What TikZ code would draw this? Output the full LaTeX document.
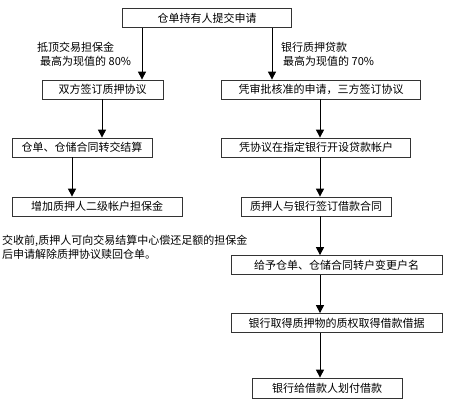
\documentclass[tikz,border=0pt]{standalone}
\usepackage{fontspec}
\setmainfont{Noto Sans CJK SC}
\usetikzlibrary{arrows.meta}
\begin{document}
\begin{tikzpicture}[x=1pt,y=-1pt,
  box/.style={draw=black!80,line width=0.8pt,inner sep=0pt,minimum height=19pt,font=\fontsize{11}{12}\selectfont},
  arr/.style={line width=1pt,-{Triangle[length=8pt,width=8pt]}},
  lbl/.style={anchor=west,inner sep=0pt,font=\fontsize{11}{12}\selectfont}]
\useasboundingbox (0,0) rectangle (450,400);
\fill[white] (0,0) rectangle (450,400);
% boxes
\node[box,minimum width=169pt] (b1) at (207,18) {仓单持有人提交申请};
\node[box,minimum width=121pt] (l2) at (102.5,89.5) {双方签订质押协议};
\node[box,minimum width=199pt] (r2) at (321,89.5) {凭审批核准的申请，三方签订协议};
\node[box,minimum width=140pt] (l3) at (82,147.5) {仓单、仓储合同转交结算};
\node[box,minimum width=189pt] (r3) at (316,147.5) {凭协议在指定银行开设贷款帐户};
\node[box,minimum width=170pt] (l4) at (97,206.5) {增加质押人二级帐户担保金};
\node[box,minimum width=150pt] (r4) at (316,206.5) {质押人与银行签订借款合同};
\node[box,minimum width=211pt] (r5) at (336.5,265) {给予仓单、仓储合同转户变更户名};
\node[box,minimum width=211pt] (r6) at (336.5,323) {银行取得质押物的质权取得借款借据};
\node[box,minimum width=150pt,minimum height=20pt] (r7) at (327,388) {银行给借款人划付借款};
% labels
\node[lbl] (la1) at (37,47) {抵顶交易担保金};
\node[lbl] (la2) at (40,61) {最高为现值的 80\%};
\node[lbl] (ra1) at (281,47) {银行质押贷款};
\node[lbl] (ra2) at (283,61) {最高为现值的 70\%};
\node[lbl] (n1) at (2,241) {交收前,质押人可向交易结算中心偿还足额的担保金};
\node[lbl] (n2) at (2,254) {后申请解除质押协议赎回仓单。};
% arrow columns
\coordinate (xa) at (142,0);
\coordinate (xb) at (272,0);
\coordinate (xc) at (102,0);
\coordinate (xd) at (72,0);
\coordinate (xr) at (320,0);
\draw[arr] (b1.south -| xa) -- (l2.north -| xa);
\draw[arr] (b1.south -| xb) -- (r2.north -| xb);
\draw[arr] (l2.south -| xc) -- (l3.north -| xc);
\draw[arr] (r2.south -| xr) -- (r3.north -| xr);
\draw[arr] (l3.south -| xd) -- (l4.north -| xd);
\draw[arr] (r3.south -| xr) -- (r4.north -| xr);
\draw[arr] (r4.south -| xr) -- (r5.north -| xr);
\draw[arr] (r5.south -| xr) -- (r6.north -| xr);
\draw[arr] (r6.south -| xr) -- (r7.north -| xr);
\end{tikzpicture}
\end{document}
